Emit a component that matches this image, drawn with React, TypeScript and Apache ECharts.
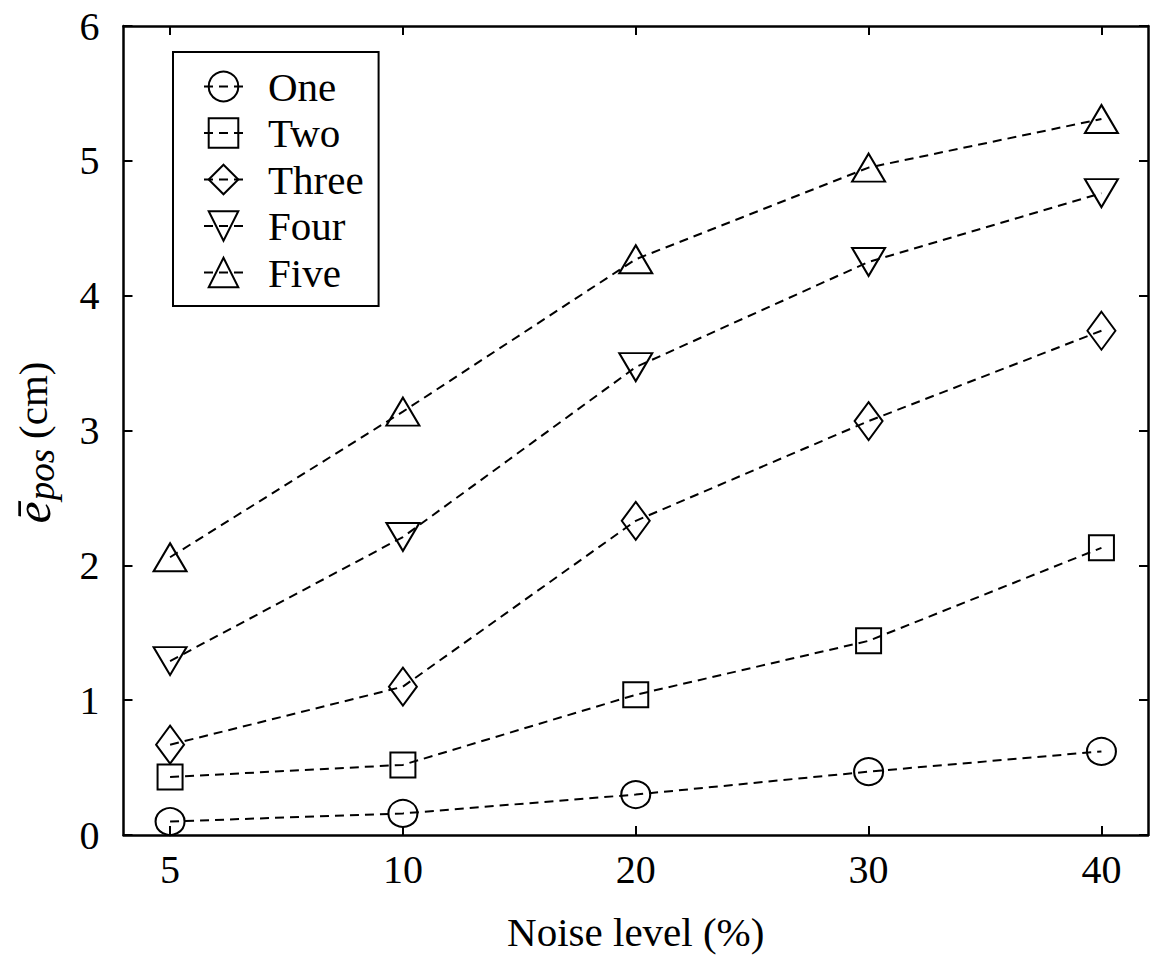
import React, { useEffect, useRef } from "react";
import * as echarts from "echarts";

const categories = ["5", "10", "20", "30", "40"];
const seriesNames = ["One", "Two", "Three", "Four", "Five"];
const one = [0.1, 0.16, 0.3, 0.47, 0.62];
const two = [0.43, 0.52, 1.04, 1.44, 2.13];
const three = [0.67, 1.1, 2.33, 3.07, 3.74];
const four = [1.29, 2.21, 3.47, 4.25, 4.76];
const five = [2.06, 3.14, 4.27, 4.95, 5.31];
const yTicks = [0, 1, 2, 3, 4, 5, 6];

const FONT = "'Liberation Serif', 'DejaVu Serif', serif";

export default function App() {
  const ref = useRef<HTMLDivElement>(null);
  useEffect(() => {
    document.body.style.margin = "0";
    const chart = echarts.init(ref.current!, null, { renderer: "svg" });
    const values = [one, two, three, four, five];
    const symbols = [
      "circle",
      "rect",
      "diamond",
      "path://M0,0 L10,0 L5,9 Z",
      "path://M5,0 L10,9 L0,9 Z",
    ];
    const sizes: any[] = [[29, 27], [25, 25], [28, 38], [33, 28], [33, 28]];
    const idx = categories.map((_, i) => i);
    const series = seriesNames.map((name, s) => ({
      name,
      type: "line",
      data: values[s].map((v, i) => [i, v]),
      symbol: symbols[s],
      symbolSize: sizes[s],
      symbolKeepAspect: false,
      showAllSymbol: true,
      lineStyle: { color: "#000", width: 2, type: [9, 6] },
      itemStyle: { color: "rgba(0,0,0,0)", borderColor: "#000", borderWidth: 2 },
      z: 3,
    }));
    const axisLine = { show: true, onZero: false, lineStyle: { color: "#000", width: 2.5 } };
    const tick = (custom?: number[]) => ({
      show: true,
      inside: true,
      length: 9,
      ...(custom ? { customValues: custom } : {}),
      lineStyle: { color: "#000", width: 2 },
    });
    chart.setOption({
      animation: false,
      backgroundColor: "#fff",
      grid: { left: 120, right: 2, top: 26, bottom: 121 },
      legend: {
        orient: "vertical",
        left: 173,
        top: 52,
        backgroundColor: "#fff",
        borderColor: "#000",
        borderWidth: 2,
        borderRadius: 0,
        padding: [14, 15, 13, 30],
        itemGap: 5.5,
        itemWidth: 39,
        itemHeight: 37,
        data: seriesNames,
        textStyle: {
          fontSize: 41,
          fontFamily: FONT,
          color: "#000",
          padding: [0, 0, 0, 20],
        },
      },
      xAxis: [
        {
          type: "value",
          min: -0.2,
          max: 4.2,
          name: "Noise level (%)",
          nameLocation: "middle",
          nameGap: 76,
          nameTextStyle: { fontSize: 41, fontFamily: FONT, color: "#000" },
          axisLine,
          splitLine: { show: false },
          axisTick: tick(idx),
          axisLabel: {
            customValues: idx,
            formatter: (v: number) => categories[Math.round(v)] ?? "",
            fontSize: 40,
            fontFamily: FONT,
            color: "#000",
            margin: 14,
          },
        },
        {
          type: "value",
          position: "top",
          min: -0.2,
          max: 4.2,
          axisLine,
          splitLine: { show: false },
          axisTick: tick(idx),
          axisLabel: { show: false },
        },
      ],
      yAxis: [
        {
          type: "value",
          min: 0,
          max: 6,
          interval: 1,
          name: "{e|ē}{sub|pos}{n|(cm)}",
          nameLocation: "middle",
          nameGap: 64,
          nameTextStyle: {
            fontFamily: FONT,
            color: "#000",
            padding: [0, 24, 0, 0],
            rich: {
              e: { fontSize: 50, fontStyle: "italic", fontFamily: FONT, color: "#000" },
              sub: { fontSize: 37, fontStyle: "italic", fontFamily: FONT, color: "#000", padding: [16, 0, 0, 1] },
              n: { fontSize: 41, fontFamily: FONT, color: "#000", padding: [0, 0, 0, 10] },
            },
          },
          axisLine,
          splitLine: { show: false },
          axisTick: tick(),
          axisLabel: {
            customValues: yTicks,
            fontSize: 40,
            fontFamily: FONT,
            color: "#000",
            margin: 24,
          },
        },
        {
          type: "value",
          position: "right",
          min: 0,
          max: 6,
          interval: 1,
          axisLine,
          splitLine: { show: false },
          axisTick: tick(),
          axisLabel: { show: false },
        },
      ],
      series,
    });
    return () => chart.dispose();
  }, []);
  return <div ref={ref} style={{ width: 1150, height: 957 }} />;
}
